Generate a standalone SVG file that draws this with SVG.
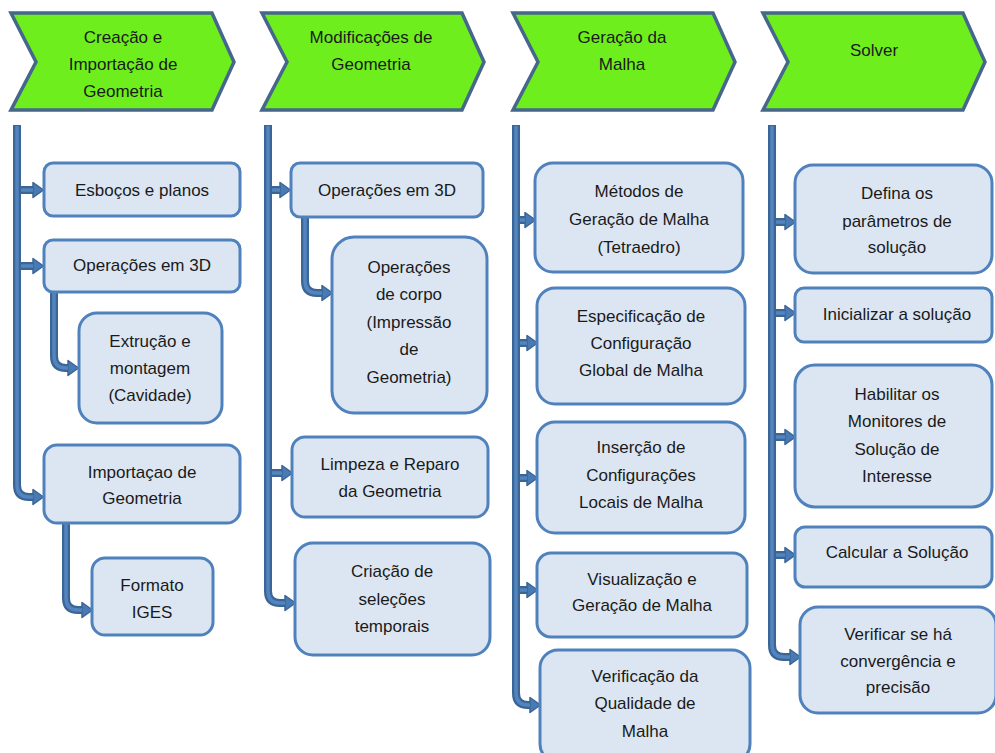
<svg xmlns="http://www.w3.org/2000/svg" width="995" height="753" viewBox="0 0 995 753">
<style>
.chev{fill:#6FEE1E;stroke:#46668C;stroke-width:3.5;stroke-linejoin:miter}
.box{fill:#DCE6F2;stroke:#4F81BD;stroke-width:3}
.t{font-family:"Liberation Sans",Arial,sans-serif;font-size:17px;fill:#1a1a1a;text-anchor:middle}
.co{fill:none;stroke:#3A6595;stroke-width:8;stroke-linejoin:round;marker-end:url(#ah)}
.ci{fill:none;stroke:#5384BF;stroke-width:3.5;stroke-linejoin:round}
</style>
<defs>
<marker id="ah" markerUnits="userSpaceOnUse" markerWidth="14" markerHeight="20" viewBox="-1 -10 14 20" refX="0" refY="0" orient="auto">
<path d="M0,-7.5 L10.5,0 L0,7.5 z" fill="#4A7AB4" stroke="#3A6595" stroke-width="1.5" stroke-linejoin="round"/>
</marker>
</defs>
<rect width="995" height="753" fill="#ffffff"/>

<g id="connectors">
<path class="co" d="M17,125 V485 Q17,497 29,497 H33"/>
<path class="co" d="M17,190 H33"/>
<path class="co" d="M17,266 H33"/>
<path class="co" d="M54,292 V356 Q54,368 66,368 H68"/>
<path class="co" d="M66,523 V598 Q66,610 78,610 H82"/>
<path class="co" d="M268,125 V591 Q268,603 280,603 H285"/>
<path class="co" d="M268,190 H280"/>
<path class="co" d="M268,473 H282"/>
<path class="co" d="M305,217 V281 Q305,293 317,293 H322"/>
<path class="co" d="M516,125 V693 Q516,705 528,705 H530"/>
<path class="co" d="M516,220 H525"/>
<path class="co" d="M516,343 H527"/>
<path class="co" d="M516,478 H527"/>
<path class="co" d="M516,590 H527"/>
<path class="co" d="M772,125 V645 Q772,657 784,657 H790"/>
<path class="co" d="M772,222 H785"/>
<path class="co" d="M772,313 H785"/>
<path class="co" d="M772,437 H785"/>
<path class="co" d="M772,555 H785"/>
<path class="ci" d="M17,126 V485 Q17,497 29,497 H33"/>
<path class="ci" d="M21,190 H33"/>
<path class="ci" d="M21,266 H33"/>
<path class="ci" d="M54,293 V356 Q54,368 66,368 H68"/>
<path class="ci" d="M66,524 V598 Q66,610 78,610 H82"/>
<path class="ci" d="M268,126 V591 Q268,603 280,603 H285"/>
<path class="ci" d="M272,190 H280"/>
<path class="ci" d="M272,473 H282"/>
<path class="ci" d="M305,218 V281 Q305,293 317,293 H322"/>
<path class="ci" d="M516,126 V693 Q516,705 528,705 H530"/>
<path class="ci" d="M520,220 H525"/>
<path class="ci" d="M520,343 H527"/>
<path class="ci" d="M520,478 H527"/>
<path class="ci" d="M520,590 H527"/>
<path class="ci" d="M772,126 V645 Q772,657 784,657 H790"/>
<path class="ci" d="M776,222 H785"/>
<path class="ci" d="M776,313 H785"/>
<path class="ci" d="M776,437 H785"/>
<path class="ci" d="M776,555 H785"/>
</g>

<g id="h1"><polygon class="chev" points="11,13 212,13 234,62 212,110 11,110 36,62"/>
<text class="t" x="123" y="43">Creação e</text><text class="t" x="123" y="70">Importação de</text><text class="t" x="123" y="97">Geometria</text></g>
<g id="h2"><polygon class="chev" points="262,13 462,13 484,62 462,110 262,110 287,62"/>
<text class="t" x="371" y="43">Modificações de</text><text class="t" x="371" y="70">Geometria</text></g>
<g id="h3"><polygon class="chev" points="513,13 713,13 735,62 713,110 513,110 538,62"/>
<text class="t" x="622" y="43">Geração da</text><text class="t" x="622" y="70">Malha</text></g>
<g id="h4"><polygon class="chev" points="763,13 963,13 985,62 963,110 763,110 788,62"/>
<text class="t" x="874" y="56">Solver</text></g>

<g id="n1a"><rect class="box" x="44" y="163" width="196" height="53" rx="9"/><text class="t" x="142" y="196">Esboços e planos</text></g>
<g id="n1b"><rect class="box" x="44" y="240" width="196" height="52" rx="9"/><text class="t" x="142" y="271">Operações em 3D</text></g>
<g id="n1c"><rect class="box" x="79" y="313" width="143" height="110" rx="18"/><text class="t" x="150" y="347">Extrução e</text><text class="t" x="150" y="374">montagem</text><text class="t" x="150" y="401">(Cavidade)</text></g>
<g id="n1d"><rect class="box" x="44" y="445" width="196" height="78" rx="13"/><text class="t" x="142" y="478">Importaçao de</text><text class="t" x="142" y="504">Geometria</text></g>
<g id="n1e"><rect class="box" x="92" y="558" width="121" height="77" rx="13"/><text class="t" x="152" y="591">Formato</text><text class="t" x="152" y="618">IGES</text></g>

<g id="n2a"><rect class="box" x="291" y="163" width="192" height="54" rx="9"/><text class="t" x="387" y="196">Operações em 3D</text></g>
<g id="n2b"><rect class="box" x="332" y="237" width="155" height="176" rx="22"/><text class="t" x="409" y="273">Operações</text><text class="t" x="409" y="300">de corpo</text><text class="t" x="409" y="328">(Impressão</text><text class="t" x="409" y="355">de</text><text class="t" x="409" y="383">Geometria)</text></g>
<g id="n2c"><rect class="box" x="292" y="437" width="196" height="80" rx="13"/><text class="t" x="390" y="470">Limpeza e Reparo</text><text class="t" x="390" y="497">da Geometria</text></g>
<g id="n2d"><rect class="box" x="295" y="543" width="195" height="112" rx="18"/><text class="t" x="392" y="577">Criação de</text><text class="t" x="392" y="605">seleções</text><text class="t" x="392" y="632">temporais</text></g>

<g id="n3a"><rect class="box" x="535" y="163" width="208" height="109" rx="18"/><text class="t" x="639" y="197">Métodos de</text><text class="t" x="639" y="225">Geração de Malha</text><text class="t" x="639" y="253">(Tetraedro)</text></g>
<g id="n3b"><rect class="box" x="537" y="288" width="208" height="116" rx="18"/><text class="t" x="641" y="322">Especificação de</text><text class="t" x="641" y="349">Configuração</text><text class="t" x="641" y="376">Global de Malha</text></g>
<g id="n3c"><rect class="box" x="537" y="422" width="208" height="111" rx="18"/><text class="t" x="641" y="453">Inserção de</text><text class="t" x="641" y="481">Configurações</text><text class="t" x="641" y="508">Locais de Malha</text></g>
<g id="n3d"><rect class="box" x="537" y="553" width="210" height="84" rx="14"/><text class="t" x="642" y="585">Visualização e</text><text class="t" x="642" y="611">Geração de Malha</text></g>
<g id="n3e"><rect class="box" x="540" y="650" width="210" height="112" rx="18"/><text class="t" x="645" y="682">Verificação da</text><text class="t" x="645" y="709">Qualidade de</text><text class="t" x="645" y="737">Malha</text></g>

<g id="n4a"><rect class="box" x="795" y="165" width="197" height="108" rx="18"/><text class="t" x="897" y="199">Defina os</text><text class="t" x="897" y="227">parâmetros de</text><text class="t" x="897" y="253">solução</text></g>
<g id="n4b"><rect class="box" x="795" y="288" width="197" height="54" rx="9"/><text class="t" x="897" y="320">Inicializar a solução</text></g>
<g id="n4c"><rect class="box" x="795" y="365" width="197" height="142" rx="20"/><text class="t" x="897" y="400">Habilitar os</text><text class="t" x="897" y="427">Monitores de</text><text class="t" x="897" y="455">Solução de</text><text class="t" x="897" y="482">Interesse</text></g>
<g id="n4d"><rect class="box" x="795" y="527" width="197" height="60" rx="10"/><text class="t" x="897" y="558">Calcular a Solução</text></g>
<g id="n4e"><rect class="box" x="800" y="607" width="196" height="106" rx="18"/><text class="t" x="898" y="640">Verificar se há</text><text class="t" x="898" y="667">convergência e</text><text class="t" x="898" y="693">precisão</text></g>
</svg>
